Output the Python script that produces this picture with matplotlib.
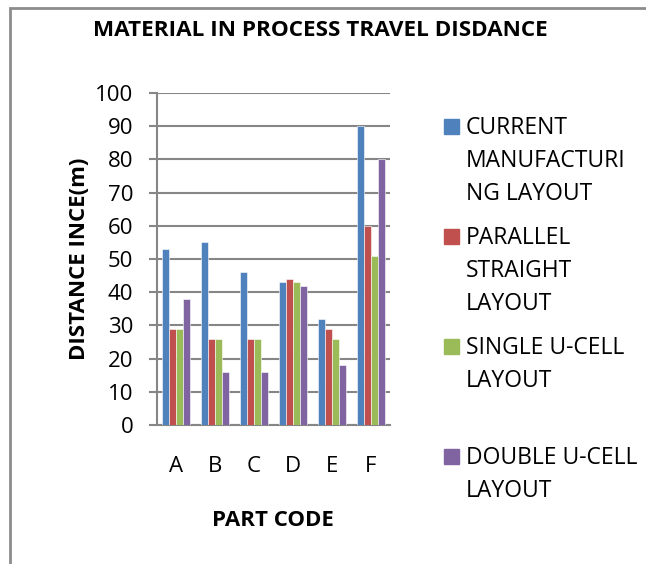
import numpy as np
import matplotlib.pyplot as plt
from matplotlib.patches import Rectangle

plt.rcParams['font.family'] = ['Open Sans', 'DejaVu Sans']

part_codes = ["A", "B", "C", "D", "E", "F"]
current_layout = [53, 55, 46, 43, 32, 90]
parallel_straight = [29, 26, 26, 44, 29, 60]
single_u_cell = [29, 26, 26, 43, 26, 51]
double_u_cell = [38, 16, 16, 42, 18, 80]

series = [current_layout, parallel_straight, single_u_cell, double_u_cell]
labels = ["CURRENT\nMANUFACTURI\nNG LAYOUT", "PARALLEL\nSTRAIGHT\nLAYOUT",
          "SINGLE U-CELL\nLAYOUT", "DOUBLE U-CELL\nLAYOUT"]
colors = ["#4F81BD", "#C0504D", "#9BBB59", "#8064A2"]

W, H = 646, 564
FS = 16
fig = plt.figure(figsize=(W / 100, H / 100), dpi=100)
ax = fig.add_axes([157 / W, 1 - 425 / H, (390 - 157) / W, (425 - 93) / H])

x = np.arange(len(part_codes))
bw = 0.18
for k, (vals, col) in enumerate(zip(series, colors)):
    ax.bar(x + (k - 1.5) * bw, vals, width=bw, color=col, edgecolor="white",
           linewidth=0.4, zorder=3)

ax.set_xlim(-0.5, len(part_codes) - 0.5)
ax.set_ylim(0, 100)
ax.set_yticks(range(0, 101, 10))
ax.set_xticks(x)
ax.set_xticklabels(part_codes)
ax.yaxis.grid(True, color="#868686", linewidth=1.5, zorder=0)
ax.tick_params(axis="y", length=6, width=1.5, color="#868686", pad=11, labelsize=FS)
ax.tick_params(axis="x", length=0, pad=22, labelsize=FS)
for side in ["top", "right"]:
    ax.spines[side].set_visible(False)
for side in ["left", "bottom"]:
    ax.spines[side].set_color("#868686")
    ax.spines[side].set_linewidth(1.5)

ax.set_ylabel("DISTANCE INCE(m)", fontsize=FS, fontweight="bold")
ax.yaxis.set_label_coords((90 - 157) / 233, 0.5)
ax.set_xlabel("PART CODE", fontsize=FS, fontweight="bold")
ax.xaxis.set_label_coords((273 - 157) / 233, (425 - 510) / 332)
fig.text(320 / W, 1 - 36 / H, "MATERIAL IN PROCESS TRAVEL DISDANCE", fontsize=16.2,
         fontweight="bold", ha="center", va="baseline")

# legend drawn by hand so the wrapped labels sit like the original
baselines = [134, 244, 354, 464]
for lab, col, yb in zip(labels, colors, baselines):
    fig.patches.append(Rectangle((444 / W, 1 - yb / H), 15 / W, 15 / H,
                                 transform=fig.transFigure, color=col))
    for i, line in enumerate(lab.split("\n")):
        fig.text(466 / W, 1 - (yb + 33 * i) / H, line, fontsize=16.5,
                 ha="left", va="baseline")

# chart frame
fig.patches.append(Rectangle((10 / W, -0.1), 1.2, 1 - 8 / H + 0.1,
                             transform=fig.transFigure, fill=False,
                             edgecolor="#8c8c8c", linewidth=2))

fig.savefig("out.png", dpi=100)
